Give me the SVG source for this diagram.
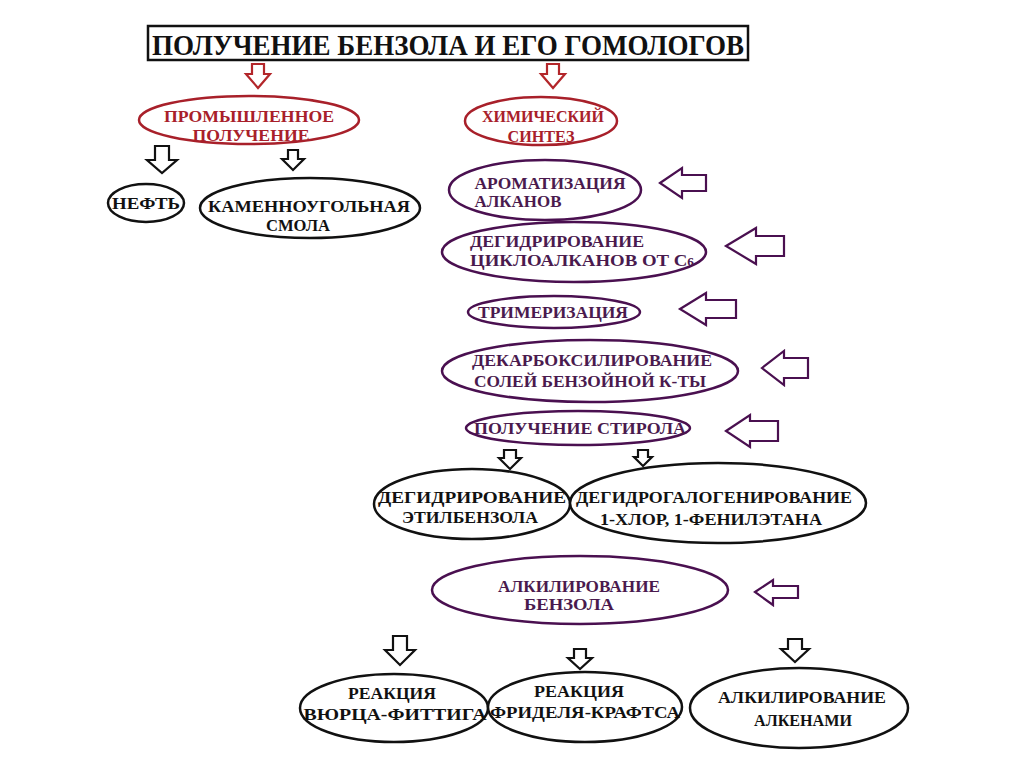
<svg xmlns="http://www.w3.org/2000/svg" width="1024" height="767" viewBox="0 0 1024 767">
<style>
text{font-family:"Liberation Serif","DejaVu Serif",serif;font-weight:bold;font-size:17px;text-anchor:middle}
.r{fill:#a8202a}
.p{fill:#4a1a4e}
.k{fill:#111}
ellipse{fill:#fff;stroke-width:2.5}
.re{stroke:#a8202a}
.pe{stroke:#4a1050}
.ke{stroke:#111}
.ar{fill:#fff;stroke-width:2.2;stroke-linejoin:miter}
.arr{stroke:#b3262a}
.arp{stroke:#4a1050}
.ark{stroke:#111}
</style>
<rect width="1024" height="767" fill="#fff"/>
<g id="title">
<rect x="148" y="26" width="600" height="34" fill="#fff" stroke="#111" stroke-width="2.5"/>
<text x="448" y="55" class="k" style="font-size:30px" textLength="592" lengthAdjust="spacingAndGlyphs">ПОЛУЧЕНИЕ БЕНЗОЛА И ЕГО ГОМОЛОГОВ</text>
</g>
<g id="connectors">
<polygon class="ar arr" points="252,64 264,64 264,74 270,74 258,88 246,74 252,74"/>
<polygon class="ar arr" points="547,64 559,64 559,74 565,74 553,88 541,74 547,74"/>
<polygon class="ar ark" points="155,146 169,146 169,160 177,160 162,173 147,160 155,160"/>
<polygon class="ar ark" points="288,150 298,150 298,159 304,159 293,170 282,159 288,159"/>
<polygon class="ar arp" points="660,183 682,168 682,175 706,175 706,191 682,191 682,198"/>
<polygon class="ar arp" points="726,246 756,228 756,236 784,236 784,256 756,256 756,264"/>
<polygon class="ar arp" points="680,309 706,293 706,300 736,300 736,318 706,318 706,325"/>
<polygon class="ar arp" points="762,368 784,351 784,358 808,358 808,378 784,378 784,385"/>
<polygon class="ar arp" points="726,431 750,415 750,421 778,421 778,441 750,441 750,447"/>
<polygon class="ar arp" points="755,592 773,580 773,586 798,586 798,598 773,598 773,605"/>
<polygon class="ar ark" points="504,450 516,450 516,458 521,458 510,469 499,458 504,458"/>
<polygon class="ar ark" points="638,450 648,450 648,457 652,457 643,466 634,457 638,457"/>
<polygon class="ar ark" points="393,636 407,636 407,650 415,650 400,665 385,650 393,650"/>
<polygon class="ar ark" points="574,649 586,649 586,658 592,658 580,669 568,658 574,658"/>
<polygon class="ar ark" points="788,639 802,639 802,649 809,649 795,662 781,649 788,649"/>
</g>
<g id="n-prom">
<ellipse class="re" cx="249" cy="120" rx="110" ry="24"/>
<text x="249" y="122" class="r" textLength="170" lengthAdjust="spacingAndGlyphs">ПРОМЫШЛЕННОЕ</text>
<text x="251" y="141" class="r" textLength="117" lengthAdjust="spacingAndGlyphs">ПОЛУЧЕНИЕ</text>
</g>
<g id="n-chem">
<ellipse class="re" cx="541" cy="121" rx="76" ry="24"/>
<text x="543" y="122" class="r" textLength="122" lengthAdjust="spacingAndGlyphs">ХИМИЧЕСКИЙ</text>
<text x="541" y="142" class="r" textLength="67" lengthAdjust="spacingAndGlyphs">СИНТЕЗ</text>
</g>
<g id="n-neft">
<ellipse class="ke" cx="146" cy="203" rx="38" ry="19"/>
<text x="146" y="209" class="k" textLength="68" lengthAdjust="spacingAndGlyphs">НЕФТЬ</text>
</g>
<g id="n-smola">
<ellipse class="ke" cx="310" cy="208" rx="110" ry="30"/>
<text x="309" y="212" class="k" textLength="202" lengthAdjust="spacingAndGlyphs">КАМЕННОУГОЛЬНАЯ</text>
<text x="298" y="231" class="k" textLength="64" lengthAdjust="spacingAndGlyphs">СМОЛА</text>
</g>
<g id="n-arom">
<ellipse class="pe" cx="545" cy="190" rx="96" ry="30"/>
<text x="550" y="189" class="p" textLength="151" lengthAdjust="spacingAndGlyphs">АРОМАТИЗАЦИЯ</text>
<text x="518" y="207" class="p" textLength="87" lengthAdjust="spacingAndGlyphs">АЛКАНОВ</text>
</g>
<g id="n-dehydro">
<ellipse class="pe" cx="574" cy="252" rx="132" ry="30"/>
<text x="557" y="247" class="p" textLength="174" lengthAdjust="spacingAndGlyphs">ДЕГИДРИРОВАНИЕ</text>
<text x="582" y="266" class="p" textLength="224" lengthAdjust="spacingAndGlyphs">ЦИКЛОАЛКАНОВ ОТ С<tspan style="font-size:12px">6</tspan></text>
</g>
<g id="n-trimer">
<ellipse class="pe" cx="554" cy="312" rx="86" ry="16"/>
<text x="553" y="318" class="p" textLength="150" lengthAdjust="spacingAndGlyphs">ТРИМЕРИЗАЦИЯ</text>
</g>
<g id="n-decarb">
<ellipse class="pe" cx="590" cy="371" rx="148" ry="31"/>
<text x="592" y="366" class="p" textLength="240" lengthAdjust="spacingAndGlyphs">ДЕКАРБОКСИЛИРОВАНИЕ</text>
<text x="590" y="387" class="p" textLength="232" lengthAdjust="spacingAndGlyphs">СОЛЕЙ БЕНЗОЙНОЙ К-ТЫ</text>
</g>
<g id="n-styrene">
<ellipse class="pe" cx="578" cy="428" rx="112" ry="17"/>
<text x="580" y="434" class="p" textLength="212" lengthAdjust="spacingAndGlyphs">ПОЛУЧЕНИЕ СТИРОЛА</text>
</g>
<g id="n-ethylbenz">
<ellipse class="ke" cx="472" cy="504" rx="98" ry="35"/>
<text x="472" y="503" class="k" textLength="188" lengthAdjust="spacingAndGlyphs">ДЕГИДРИРОВАНИЕ</text>
<text x="470" y="523" class="k" textLength="136" lengthAdjust="spacingAndGlyphs">ЭТИЛБЕНЗОЛА</text>
</g>
<g id="n-dehydrohal">
<ellipse class="ke" cx="718" cy="503" rx="148" ry="40"/>
<text x="714" y="503" class="k" textLength="276" lengthAdjust="spacingAndGlyphs">ДЕГИДРОГАЛОГЕНИРОВАНИЕ</text>
<text x="711" y="525" class="k" textLength="222" lengthAdjust="spacingAndGlyphs">1-ХЛОР, 1-ФЕНИЛЭТАНА</text>
</g>
<g id="n-alkyl">
<ellipse class="pe" cx="580" cy="590" rx="148" ry="34"/>
<text x="579" y="592" class="p" textLength="162" lengthAdjust="spacingAndGlyphs">АЛКИЛИРОВАНИЕ</text>
<text x="569" y="610" class="p" textLength="90" lengthAdjust="spacingAndGlyphs">БЕНЗОЛА</text>
</g>
<g id="n-wurtz">
<ellipse class="ke" cx="394" cy="708" rx="94" ry="34"/>
<text x="392" y="699" class="k" textLength="88" lengthAdjust="spacingAndGlyphs">РЕАКЦИЯ</text>
<text x="395" y="720" class="k" textLength="183" lengthAdjust="spacingAndGlyphs">ВЮРЦА-ФИТТИГА</text>
</g>
<g id="n-friedel">
<ellipse class="ke" cx="585" cy="707" rx="97" ry="35"/>
<text x="579" y="697" class="k" textLength="90" lengthAdjust="spacingAndGlyphs">РЕАКЦИЯ</text>
<text x="585" y="718" class="k" textLength="190" lengthAdjust="spacingAndGlyphs">ФРИДЕЛЯ-КРАФТСА</text>
</g>
<g id="n-alkenes">
<ellipse class="ke" cx="799" cy="708" rx="109" ry="40"/>
<text x="802" y="703" class="k" textLength="168" lengthAdjust="spacingAndGlyphs">АЛКИЛИРОВАНИЕ</text>
<text x="803" y="726" class="k" textLength="98" lengthAdjust="spacingAndGlyphs">АЛКЕНАМИ</text>
</g>
</svg>
